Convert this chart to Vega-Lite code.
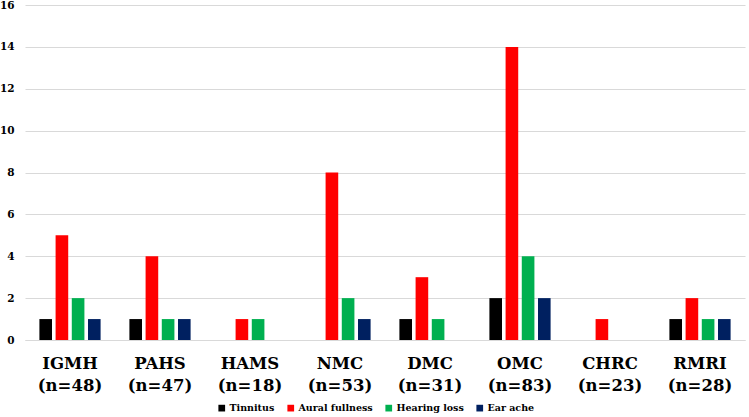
{
  "$schema": "https://vega.github.io/schema/vega-lite/v6.json",
  "width": 720,
  "height": 335,
  "autosize": {"type": "none"},
  "padding": {"left": 25, "top": 5, "right": 4, "bottom": 77},
  "background": "white",
  "data": {
    "values": [
      {"site": "IGMH (n=48)", "symptom": "Tinnitus", "count": 1},
      {"site": "IGMH (n=48)", "symptom": "Aural fullness", "count": 5},
      {"site": "IGMH (n=48)", "symptom": "Hearing loss", "count": 2},
      {"site": "IGMH (n=48)", "symptom": "Ear ache", "count": 1},
      {"site": "PAHS (n=47)", "symptom": "Tinnitus", "count": 1},
      {"site": "PAHS (n=47)", "symptom": "Aural fullness", "count": 4},
      {"site": "PAHS (n=47)", "symptom": "Hearing loss", "count": 1},
      {"site": "PAHS (n=47)", "symptom": "Ear ache", "count": 1},
      {"site": "HAMS (n=18)", "symptom": "Tinnitus", "count": 0},
      {"site": "HAMS (n=18)", "symptom": "Aural fullness", "count": 1},
      {"site": "HAMS (n=18)", "symptom": "Hearing loss", "count": 1},
      {"site": "HAMS (n=18)", "symptom": "Ear ache", "count": 0},
      {"site": "NMC (n=53)", "symptom": "Tinnitus", "count": 0},
      {"site": "NMC (n=53)", "symptom": "Aural fullness", "count": 8},
      {"site": "NMC (n=53)", "symptom": "Hearing loss", "count": 2},
      {"site": "NMC (n=53)", "symptom": "Ear ache", "count": 1},
      {"site": "DMC (n=31)", "symptom": "Tinnitus", "count": 1},
      {"site": "DMC (n=31)", "symptom": "Aural fullness", "count": 3},
      {"site": "DMC (n=31)", "symptom": "Hearing loss", "count": 1},
      {"site": "DMC (n=31)", "symptom": "Ear ache", "count": 0},
      {"site": "OMC (n=83)", "symptom": "Tinnitus", "count": 2},
      {"site": "OMC (n=83)", "symptom": "Aural fullness", "count": 14},
      {"site": "OMC (n=83)", "symptom": "Hearing loss", "count": 4},
      {"site": "OMC (n=83)", "symptom": "Ear ache", "count": 2},
      {"site": "CHRC (n=23)", "symptom": "Tinnitus", "count": 0},
      {"site": "CHRC (n=23)", "symptom": "Aural fullness", "count": 1},
      {"site": "CHRC (n=23)", "symptom": "Hearing loss", "count": 0},
      {"site": "CHRC (n=23)", "symptom": "Ear ache", "count": 0},
      {"site": "RMRI (n=28)", "symptom": "Tinnitus", "count": 1},
      {"site": "RMRI (n=28)", "symptom": "Aural fullness", "count": 2},
      {"site": "RMRI (n=28)", "symptom": "Hearing loss", "count": 1},
      {"site": "RMRI (n=28)", "symptom": "Ear ache", "count": 1}
    ]
  },
  "mark": {"type": "bar"},
  "encoding": {
    "x": {
      "field": "site",
      "type": "nominal",
      "sort": null,
      "title": null,
      "scale": {"paddingInner": 0.32, "paddingOuter": 0.16},
      "axis": {
        "labelAngle": 0,
        "labelExpr": "split(datum.label, ' ')",
        "labelFont": "DejaVu Serif",
        "labelFontWeight": "bold",
        "labelFontSize": 16.5,
        "labelLineHeight": 22,
        "labelColor": "#000000",
        "labelPadding": 15,
        "ticks": false,
        "domain": true,
        "domainColor": "#d9d9d9",
        "grid": false
      }
    },
    "xOffset": {
      "field": "symptom",
      "type": "nominal",
      "sort": ["Tinnitus", "Aural fullness", "Hearing loss", "Ear ache"],
      "scale": {"paddingInner": 0.22}
    },
    "y": {
      "field": "count",
      "type": "quantitative",
      "title": null,
      "scale": {"domain": [0, 16]},
      "axis": {
        "values": [0, 2, 4, 6, 8, 10, 12, 14, 16],
        "labelFont": "DejaVu Serif",
        "labelFontWeight": "bold",
        "labelFontSize": 10.5,
        "labelColor": "#000000",
        "labelPadding": 11,
        "ticks": false,
        "domain": false,
        "gridColor": "#d9d9d9",
        "gridWidth": 1
      }
    },
    "color": {
      "field": "symptom",
      "type": "nominal",
      "sort": ["Tinnitus", "Aural fullness", "Hearing loss", "Ear ache"],
      "scale": {
        "domain": ["Tinnitus", "Aural fullness", "Hearing loss", "Ear ache"],
        "range": ["#000000", "#ff0000", "#00b050", "#002060"]
      },
      "legend": {
        "title": null,
        "orient": "none",
        "direction": "horizontal",
        "legendX": 192,
        "legendY": 398,
        "symbolType": "square",
        "symbolSize": 45,
        "symbolStrokeWidth": 0,
        "labelFont": "DejaVu Serif",
        "labelFontWeight": "bold",
        "labelFontSize": 9.5,
        "labelColor": "#000000",
        "labelOffset": 3,
        "columnPadding": 11
      }
    }
  },
  "config": {
    "view": {"stroke": null}
  }
}
